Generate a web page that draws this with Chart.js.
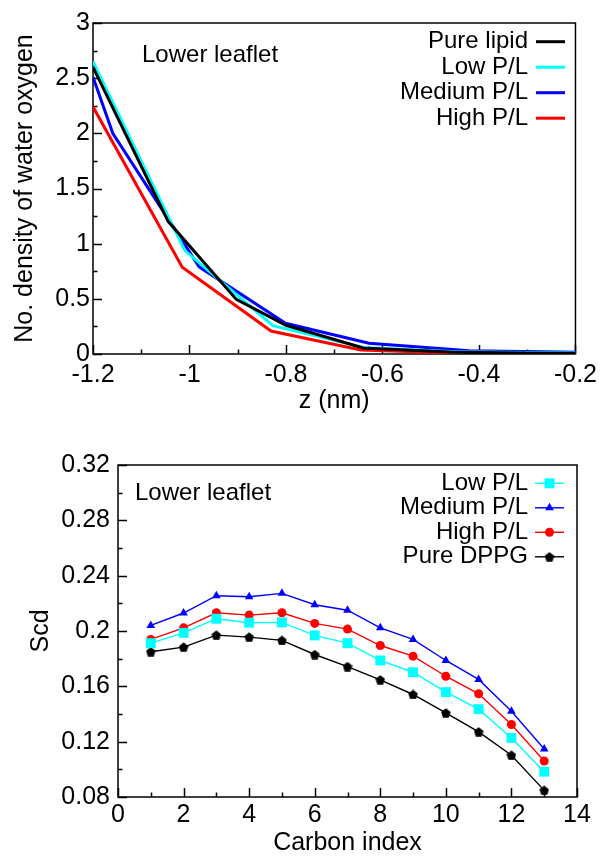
<!DOCTYPE html>
<html>
<head>
<meta charset="utf-8">
<script src="https://cdn.jsdelivr.net/npm/chart.js@4/dist/chart.umd.min.js"></script>
<style>
  body { margin: 0; background: #fff; }
  .box { position: absolute; left: 0; width: 603px; height: 428px; }
  #topBox { top: 0; }
  #bottomBox { top: 428px; }
</style>
</head>
<body>
<div class="box" id="topBox"><canvas id="densityChart"></canvas></div>
<div class="box" id="bottomBox"><canvas id="scdChart"></canvas></div>
<script>
// Данные: плотность воды (верхний график)
const zPure = [-1.2, -1.044, -0.903, -0.80, -0.64, -0.45, -0.2];
const rhoPure = [2.60, 1.20, 0.495, 0.26, 0.055, 0.015, 0.005];
const zLow = [-1.2, -1.01, -0.827, -0.64, -0.45, -0.2];
const rhoLow = [2.65, 0.94, 0.257, 0.06, 0.02, 0.008];
const zMedium = [-1.2, -1.159, -0.98, -0.801, -0.628, -0.42, -0.2];
const rhoMedium = [2.51, 2.0, 0.79, 0.278, 0.097, 0.03, 0.015];
const zHigh = [-1.2, -1.015, -0.831, -0.645, -0.46, -0.2];
const rhoHigh = [2.24, 0.786, 0.208, 0.036, 0.01, 0.003];

// Данные: параметр порядка Scd (нижний график)
const carbonIndex = [1, 2, 3, 4, 5, 6, 7, 8, 9, 10, 11, 12, 13];
const scdLow = [0.1912, 0.1987, 0.2089, 0.2060, 0.2062, 0.1968, 0.1912, 0.1787, 0.1702, 0.1558, 0.1435, 0.1227, 0.0983];
const scdMedium = [0.2040, 0.2130, 0.2255, 0.2248, 0.2272, 0.2190, 0.2150, 0.2023, 0.1939, 0.1787, 0.1650, 0.1420, 0.1147];
const scdHigh = [0.1939, 0.2023, 0.2132, 0.2115, 0.2132, 0.2055, 0.2014, 0.1895, 0.1818, 0.1673, 0.1546, 0.1324, 0.1060];
const scdPure = [0.1850, 0.1883, 0.1970, 0.1956, 0.1932, 0.1830, 0.1743, 0.1647, 0.1541, 0.1408, 0.1271, 0.1102, 0.0848];

const FONT = '"Liberation Sans", Arial, Helvetica, sans-serif';
Chart.defaults.color = '#000';
Chart.defaults.font.family = FONT;

function pairs(xs, ys) {
    return xs.map((x, i) => ({ x: x, y: ys[i] }));
}

// Пятиугольный маркер для Pure DPPG
function pentagon(size) {
    const c = document.createElement('canvas');
    c.width = size; c.height = size;
    const g = c.getContext('2d');
    const r = size / 2;
    g.beginPath();
    for (let i = 0; i < 5; i++) {
        const a = -Math.PI / 2 + i * 2 * Math.PI / 5;
        const px = r + r * Math.cos(a), py = r + r * 1.05 * Math.sin(a) + 0.5;
        if (i === 0) g.moveTo(px, py); else g.lineTo(px, py);
    }
    g.closePath();
    g.fillStyle = '#000';
    g.fill();
    return c;
}
const pentaImg = pentagon(10);

// Рамка и внутренние засечки (как в gnuplot)
const frameTicks = {
    id: 'frameTicks',
    beforeDatasetsDraw(chart, args, opts) {
        const { ctx, chartArea: a, scales } = chart;
        ctx.save();
        ctx.strokeStyle = '#000';
        ctx.lineWidth = 1.5;
        ctx.beginPath();
        const sx = scales.x, sy = scales.y;
        let n = Math.round((sx.max - sx.min) / opts.xMinor);
        for (let i = 0; i <= n; i++) {
            const px = Math.round(sx.getPixelForValue(sx.min + i * opts.xMinor)) + 0.5;
            const len = i % opts.xEvery === 0 ? 9 : 4.5;
            ctx.moveTo(px, a.bottom);
            ctx.lineTo(px, a.bottom - len);
        }
        n = Math.round((sy.max - sy.min) / opts.yMinor);
        for (let i = 0; i <= n; i++) {
            const py = Math.round(sy.getPixelForValue(sy.min + i * opts.yMinor)) + 0.5;
            const len = i % opts.yEvery === 0 ? 9 : 4.5;
            ctx.moveTo(a.left, py);
            ctx.lineTo(a.left + len, py);
        }
        ctx.stroke();
        ctx.strokeRect(a.left, a.top, a.right - a.left, a.bottom - a.top);
        ctx.restore();
    }
};

// Легенда справа (текст, затем образец линии) и подпись "Lower leaflet"
const sideLegend = {
    id: 'sideLegend',
    afterDatasetsDraw(chart, args, opts) {
        const ctx = chart.ctx;
        ctx.save();
        ctx.font = '24px ' + FONT;
        ctx.fillStyle = '#000';
        ctx.textBaseline = 'middle';
        ctx.textAlign = 'left';
        ctx.fillText(opts.note, opts.noteX, opts.noteY);
        ctx.textAlign = 'right';
        chart.data.datasets.forEach((ds, i) => {
            const y = opts.y0 + i * opts.dy;
            ctx.fillStyle = '#000';
            ctx.fillText(ds.label, opts.textRight, y);
            ctx.strokeStyle = ds.borderColor;
            ctx.lineWidth = ds.borderWidth;
            ctx.beginPath();
            ctx.moveTo(opts.x1, y);
            ctx.lineTo(opts.x2, y);
            ctx.stroke();
            if (ds.pointRadius > 0) {
                ctx.fillStyle = ds.pointBackgroundColor;
                Chart.helpers.drawPoint(ctx, {
                    pointStyle: ds.pointStyle, rotation: 0,
                    radius: ds.pointRadius, borderWidth: 0
                }, (opts.x1 + opts.x2) / 2, y);
            }
        });
        ctx.restore();
    }
};

function axisTitle(text, pad) {
    return { display: true, text: text, font: { size: 25, lineHeight: 1 }, padding: pad };
}

// Верхний график
new Chart(document.getElementById('densityChart'), {
    type: 'line',
    data: {
        datasets: [
            { label: 'Pure lipid', data: pairs(zPure, rhoPure), borderColor: '#000000', borderWidth: 3, pointRadius: 0 },
            { label: 'Low P/L', data: pairs(zLow, rhoLow), borderColor: '#00ffff', borderWidth: 3, pointRadius: 0 },
            { label: 'Medium P/L', data: pairs(zMedium, rhoMedium), borderColor: '#0000ff', borderWidth: 3, pointRadius: 0 },
            { label: 'High P/L', data: pairs(zHigh, rhoHigh), borderColor: '#ff0000', borderWidth: 3, pointRadius: 0 }
        ]
    },
    options: {
        responsive: true,
        maintainAspectRatio: false,
        animation: false,
        layout: { padding: { top: 23, right: 26, left: 0, bottom: 0 } },
        scales: {
            x: {
                type: 'linear', min: -1.2, max: -0.2,
                ticks: { stepSize: 0.2, padding: 6, font: { size: 25 }, callback: v => +v.toFixed(2) },
                grid: { display: false, drawTicks: false },
                border: { display: false },
                title: axisTitle('z (nm)', { top: 0, bottom: 14 }),
                afterFit: axis => { axis.height = 74; }
            },
            y: {
                min: 0, max: 3,
                ticks: { stepSize: 0.5, padding: 3, font: { size: 25 }, callback: v => +v.toFixed(2) },
                grid: { display: false, drawTicks: false },
                border: { display: false },
                title: axisTitle('No. density of water oxygen', { top: 12.5, bottom: 0 }),
                afterFit: axis => { axis.width = 93; }
            }
        },
        plugins: {
            legend: { display: false },
            tooltip: { enabled: false },
            frameTicks: { xMinor: 0.1, xEvery: 2, yMinor: 0.25, yEvery: 2 },
            sideLegend: { note: 'Lower leaflet', noteX: 142, noteY: 55, textRight: 528, x1: 536, x2: 565, y0: 41.7, dy: 25.5 }
        }
    },
    plugins: [frameTicks, sideLegend]
});

// Нижний график
new Chart(document.getElementById('scdChart'), {
    type: 'line',
    data: {
        datasets: [
            { label: 'Low P/L', data: pairs(carbonIndex, scdLow), borderColor: '#00ffff', borderWidth: 1.4,
              pointStyle: 'rect', pointRadius: 7, pointBackgroundColor: '#00ffff', pointBorderWidth: 0 },
            { label: 'Medium P/L', data: pairs(carbonIndex, scdMedium), borderColor: '#0000ff', borderWidth: 1.4,
              pointStyle: 'triangle', pointRadius: 5, pointBackgroundColor: '#0000ff', pointBorderWidth: 0 },
            { label: 'High P/L', data: pairs(carbonIndex, scdHigh), borderColor: '#ff0000', borderWidth: 1.4,
              pointStyle: 'circle', pointRadius: 4.5, pointBackgroundColor: '#ff0000', pointBorderWidth: 0 },
            { label: 'Pure DPPG', data: pairs(carbonIndex, scdPure), borderColor: '#000000', borderWidth: 1.4,
              pointStyle: pentaImg, pointRadius: 4.5, pointBackgroundColor: '#000000', pointBorderWidth: 0 }
        ]
    },
    options: {
        responsive: true,
        maintainAspectRatio: false,
        animation: false,
        layout: { padding: { top: 37, right: 26, left: 0, bottom: 0 } },
        scales: {
            x: {
                type: 'linear', min: 0, max: 14,
                ticks: { stepSize: 2, padding: 3, font: { size: 25 } },
                grid: { display: false, drawTicks: false },
                border: { display: false },
                title: axisTitle('Carbon index', { top: 0, bottom: 0.5 }),
                afterFit: axis => { axis.height = 59; }
            },
            y: {
                min: 0.08, max: 0.32,
                ticks: { stepSize: 0.04, padding: 8, font: { size: 25 }, callback: v => +v.toFixed(2) },
                grid: { display: false, drawTicks: false },
                border: { display: false },
                title: axisTitle('Scd', { top: 28.5, bottom: 0 }),
                afterFit: axis => { axis.width = 118; }
            }
        },
        plugins: {
            legend: { display: false },
            tooltip: { enabled: false },
            frameTicks: { xMinor: 1, xEvery: 2, yMinor: 0.02, yEvery: 2 },
            sideLegend: { note: 'Lower leaflet', noteX: 135, noteY: 65, textRight: 528, x1: 535, x2: 564, y0: 55.3, dy: 24.5 }
        }
    },
    plugins: [frameTicks, sideLegend]
});
</script>
</body>
</html>
